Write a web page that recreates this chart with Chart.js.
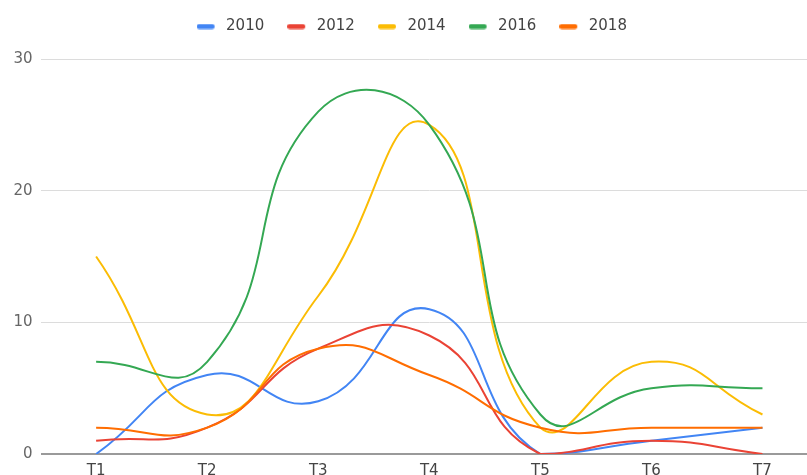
<!DOCTYPE html>
<html>
<head>
<meta charset="utf-8">
<script src="https://cdn.jsdelivr.net/npm/chart.js@4/dist/chart.umd.min.js"></script>
<style>
  html, body { margin: 0; padding: 0; background: #fff; overflow: hidden; }
  #wrap { width: 818px; height: 488px; }
</style>
</head>
<body>
<div id="wrap"><canvas id="c" width="818" height="488"></canvas></div>
<script>
const categories = ['T1', 'T2', 'T3', 'T4', 'T5', 'T6', 'T7'];
const seriesNames = ['2010', '2012', '2014', '2016', '2018'];
const s2010 = [0, 6, 4, 11, 0, 1, 2];
const s2012 = [1, 2, 8, 9, 0, 1, 0];
const s2014 = [15, 3, 12, 25, 2, 7, 3];
const s2016 = [7, 7, 26, 25, 3, 5, 5];
const s2018 = [2, 2, 8, 6, 2, 2, 2];
const yTicks = [0, 10, 20, 30];
const colors = ['#4285F4', '#EA4335', '#FBBC04', '#34A853', '#FF6D01'];

const seriesValues = [s2010, s2012, s2014, s2016, s2018];

// Rounded pill used as the legend swatch; the transparent strip on its
// right gives the gap before the label text.
function legendSwatch(color) {
  const c = document.createElement('canvas');
  c.width = 22;
  c.height = 6;
  const g = c.getContext('2d');
  g.fillStyle = color;
  g.beginPath();
  g.roundRect(0, 0.5, 18, 5, 2.5);
  g.fill();
  return c;
}

const datasets = seriesValues.map((vals, i) => ({
  label: seriesNames[i],
  data: vals,
  borderColor: colors[i],
  backgroundColor: colors[i],
  borderWidth: 2,
  pointRadius: 0,
  tension: 0.5,
  fill: false,
  order: seriesValues.length - i
}));

// Extra room between the legend row and the plot area.
const legendGap = {
  id: 'legendGap',
  beforeInit(chart) {
    const fit = chart.legend.fit;
    chart.legend.fit = function () {
      fit.call(this);
      this.height += 15;
    };
  }
};

new Chart(document.getElementById('c'), {
  type: 'line',
  data: { labels: categories, datasets },
  plugins: [legendGap],
  options: {
    responsive: false,
    animation: false,
    devicePixelRatio: 1,
    layout: { padding: { left: 5.5, right: 0, top: -4, bottom: 0 } },
    plugins: {
      tooltip: { enabled: false },
      legend: {
        position: 'top',
        align: 'center',
        labels: {
          usePointStyle: true,
          pointStyleWidth: 22,
          boxHeight: 6,
          padding: 23,
          color: '#444',
          font: { family: 'DejaVu Sans', size: 15 },
          generateLabels: (chart) => chart.data.datasets.map((ds, i) => ({
            text: ds.label,
            fillStyle: ds.borderColor,
            strokeStyle: ds.borderColor,
            lineWidth: 0,
            pointStyle: legendSwatch(ds.borderColor),
            hidden: false,
            datasetIndex: i,
            fontColor: '#444'
          }))
        }
      }
    },
    scales: {
      x: {
        offset: true,
        grid: { display: false, drawTicks: false },
        border: { display: false },
        ticks: {
          color: '#444',
          padding: 8,
          maxRotation: 0,
          font: { family: 'DejaVu Sans', size: 15 }
        }
      },
      y: {
        min: yTicks[0],
        max: yTicks[yTicks.length - 1],
        afterBuildTicks: (axis) => { axis.ticks = yTicks.map(v => ({ value: v })); },
        grid: {
          drawTicks: false,
          color: (ctx) => ctx.tick && ctx.tick.value === 0 ? '#9a9a9a' : '#dcdcdc',
          lineWidth: (ctx) => ctx.tick && ctx.tick.value === 0 ? 2 : 1
        },
        border: { display: false },
        ticks: {
          color: '#666',
          padding: 8,
          font: { family: 'DejaVu Sans', size: 15 }
        }
      }
    }
  }
});
</script>
</body>
</html>
